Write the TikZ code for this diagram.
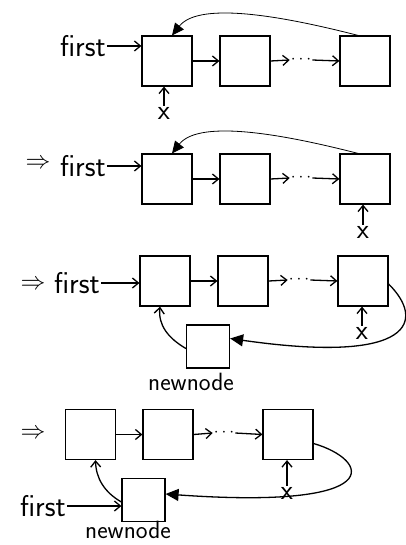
\documentclass[tikz,border=0pt]{standalone}
\usetikzlibrary{arrows.meta}
\begin{document}
\begin{tikzpicture}[x=1pt,y=-1pt,
  box/.style={draw, line width=1.2pt, minimum size=50pt, inner sep=0pt},
  nbox/.style={draw, line width=1.2pt, minimum size=43pt, inner sep=0pt},
  lbl/.style={font=\sffamily\fontsize{30}{32}\selectfont, inner sep=1pt},
  nlbl/.style={font=\sffamily\fontsize{25}{27}\selectfont, inner sep=1pt},
  xlbl/.style={font=\sffamily\fontsize{28}{30}\selectfont, inner sep=1pt},
  dots/.style={font=\fontsize{18}{20}\selectfont, inner sep=1pt},
  arr/.style={-{Straight Barb[length=6pt,width=10pt]}, line width=1.3pt},
  back/.style={-{Triangle[length=12pt,width=11pt]}, line width=0.8pt},
  loopback/.style={-{Triangle[length=13pt,width=12pt]}, line width=1.3pt},
  imp/.style={font=\fontsize{24}{26}\selectfont, inner sep=1pt}]
\useasboundingbox (0,0) rectangle (405,545);

% ---------- step 1 ----------
\node[box] (a1) at (167,61) {};
\node[box] (b1) at (245,61) {};
\node[box] (c1) at (365,61) {};
\node[lbl, anchor=east] (f1) at (107,46) {first};
\node[dots] (d1) at (301,60) {$\cdots$};
\node[xlbl] (x1) at (164,113) {x};
\draw[arr] (f1.east) -- (f1.east -| a1.west);
\draw[arr] (a1.east) -- (b1.west);
\draw[arr] (b1.east) -- (d1.west);
\draw[arr] (d1.east) -- (c1.west);
\draw[arr] (x1.north) -- (x1.north |- a1.south);
\draw[back] ([xshift=-7pt]c1.north) .. controls (290,18) and (200,0) .. ([xshift=5pt]a1.north);

% ---------- step 2 ----------
\node[box] (a2) at (167,179) {};
\node[box] (b2) at (245,179) {};
\node[box] (c2) at (365,179) {};
\node[imp] (i2) at (38,164) {$\Rightarrow$};
\node[lbl, anchor=east] (f2) at (107,166) {first};
\node[dots] (d2) at (301,178) {$\cdots$};
\node[xlbl] (x2) at (363,232) {x};
\draw[arr] (f2.east) -- (f2.east -| a2.west);
\draw[arr] (a2.east) -- (b2.west);
\draw[arr] (b2.east) -- (d2.west);
\draw[arr] (d2.east) -- (c2.west);
\draw[arr] (x2.north) -- (x2.north |- c2.south);
\draw[back] ([xshift=-7pt]c2.north) .. controls (290,136) and (200,118) .. ([xshift=5pt]a2.north);

% ---------- step 3 ----------
\node[box] (a3) at (165,281) {};
\node[box] (b3) at (243,281) {};
\node[box] (c3) at (363,281) {};
\node[nbox] (n3) at (208,346.5) {};
\node[nlbl] (nl3) at (191,382) {newnode};
\node[imp] (i3) at (33,285) {$\Rightarrow$};
\node[lbl, anchor=east] (f3) at (101,283) {first};
\node[dots] (d3) at (299,280) {$\cdots$};
\node[xlbl] (x3) at (362,333) {x};
\draw[arr] (f3.east) -- (f3.east -| a3.west);
\draw[arr] (a3.east) -- (b3.west);
\draw[arr] (b3.east) -- (d3.west);
\draw[arr] (d3.east) -- (c3.west);
\draw[arr] (x3.north) -- (x3.north |- c3.south);
\draw[loopback] ([yshift=-3pt]c3.east) .. controls (425,320) and (415,365) .. ([yshift=8pt]n3.east);
\draw[arr] ([yshift=-2pt]n3.west) .. controls (168,338) and (158,325) .. ([xshift=-5pt]a3.south);

% ---------- step 4 ----------
\node[box] (a4) at (90.5,434.5) {};
\node[box] (b4) at (168,434.5) {};
\node[box] (c4) at (288,434.5) {};
\node[nbox] (n4) at (143.5,500) {};
\node[nlbl] (nl4) at (128,530) {newnode};
\node[imp] (i4) at (33,434) {$\Rightarrow$};
\node[lbl, anchor=east] (f4) at (67,506) {first};
\node[dots] (d4) at (224,433) {$\cdots$};
\node[xlbl] (x4) at (287,493) {x};
\draw[arr] (f4.east) -- (f4.east -| n4.west);
\draw[arr] (a4.east) -- (b4.west);
\draw[arr] (b4.east) -- (d4.west);
\draw[arr] (d4.east) -- (c4.west);
\draw[arr] (x4.north) -- (x4.north |- c4.south);
\draw[loopback] ([yshift=-9pt]c4.east) .. controls (370,460) and (390,510) .. ([yshift=6pt]n4.east);
\draw[arr] ([yshift=-2pt]n4.west) .. controls (104,492) and (96,478) .. ([xshift=5pt]a4.south);
\end{tikzpicture}
\end{document}
